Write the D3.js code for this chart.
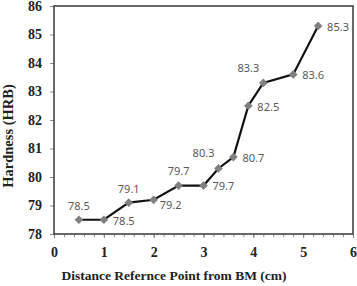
<!DOCTYPE html>
<html>
<head>
<meta charset="utf-8">
<script src="https://cdn.jsdelivr.net/npm/d3@7"></script>
<style>
  body { margin: 0; background: #fff; }
  svg { display: block; }
</style>
</head>
<body>
<div id="chart"></div>
<script>
const distance = [0.5, 1.0, 1.5, 2.0, 2.5, 3.0, 3.3, 3.6, 3.9, 4.2, 4.8, 5.3];
const hardness = [78.5, 78.5, 79.1, 79.2, 79.7, 79.7, 80.3, 80.7, 82.5, 83.3, 83.6, 85.3];
const labels = ["78.5", "78.5", "79.1", "79.2", "79.7", "79.7", "80.3", "80.7", "82.5", "83.3", "83.6", "85.3"];
// where each data label sits: above / right / aboveLeft / rightLow
const labelPos = ["above", "right", "above", "rightLow", "above", "right", "aboveLeft", "right", "right", "aboveLeft", "right", "right"];
const xTicks = [0, 1, 2, 3, 4, 5, 6];
const yTicks = [78, 79, 80, 81, 82, 83, 84, 85, 86];

const W = 357, H = 286;
const margin = { top: 6, right: 4, bottom: 52, left: 54 };
const width = W - margin.left - margin.right;
const height = H - margin.top - margin.bottom;

const svg = d3.select("#chart").append("svg")
    .attr("width", W)
    .attr("height", H);

const g = svg.append("g")
    .attr("transform", `translate(${margin.left},${margin.top})`);

const x = d3.scaleLinear().domain([0, 6]).range([0, width]);
const y = d3.scaleLinear().domain([78, 86]).range([height, 0]);

// minor ticks on x axis
g.append("g")
    .attr("transform", `translate(0,${height})`)
    .call(d3.axisBottom(x).tickValues(d3.range(0, 6.01, 0.2)).tickSize(3).tickFormat(""))
    .call(a => a.select(".domain").remove())
    .selectAll("line").attr("stroke", "#888");

const xAxis = g.append("g")
    .attr("transform", `translate(0,${height})`)
    .call(d3.axisBottom(x).tickValues(xTicks).tickSize(4).tickPadding(9).tickFormat(d3.format("d")));
xAxis.select(".domain").remove();
xAxis.selectAll("line").attr("stroke", "#888");
xAxis.selectAll("text")
    .attr("font-family", "'Liberation Serif', 'Times New Roman', serif")
    .attr("font-weight", "bold")
    .attr("font-size", 14)
    .attr("fill", "#222");

const yAxis = g.append("g")
    .call(d3.axisLeft(y).tickValues(yTicks).tickSize(4).tickPadding(8).tickFormat(d3.format("d")));
yAxis.select(".domain").remove();
yAxis.selectAll("line").attr("stroke", "#888");
yAxis.selectAll("text")
    .attr("font-family", "'Liberation Serif', 'Times New Roman', serif")
    .attr("font-weight", "bold")
    .attr("font-size", 14)
    .attr("fill", "#222");

// plot frame
g.append("rect")
    .attr("x", 0).attr("y", 0)
    .attr("width", width).attr("height", height)
    .attr("fill", "none")
    .attr("stroke", "#444")
    .attr("stroke-width", 1.6);

const pts = distance.map((d, i) => ({ x: d, y: hardness[i], label: labels[i], pos: labelPos[i] }));

g.append("path")
    .datum(pts)
    .attr("fill", "none")
    .attr("stroke", "#111")
    .attr("stroke-width", 2.2)
    .attr("d", d3.line().x(d => x(d.x)).y(d => y(d.y)));

g.selectAll(".pt")
    .data(pts)
    .enter().append("path")
    .attr("class", "pt")
    .attr("transform", d => `translate(${x(d.x)},${y(d.y)})`)
    .attr("d", d3.symbol().type(d3.symbolDiamond2).size(48))
    .attr("fill", "#808080");

const offsets = {
    above: [0, -14, "middle"],
    right: [9, 1, "start"],
    rightLow: [6, 5, "start"],
    aboveLeft: [-4, -15, "end"]
};

g.selectAll(".lbl")
    .data(pts)
    .enter().append("text")
    .attr("class", "lbl")
    .attr("x", d => x(d.x) + offsets[d.pos][0])
    .attr("y", d => y(d.y) + offsets[d.pos][1])
    .attr("dy", "0.35em")
    .attr("text-anchor", d => offsets[d.pos][2])
    .attr("font-family", "'Noto Sans', 'Open Sans', sans-serif")
    .attr("font-size", 11)
    .attr("fill", "#595959")
    .text(d => d.label);

svg.append("text")
    .attr("x", 174)
    .attr("y", 280)
    .attr("text-anchor", "middle")
    .attr("font-family", "'Liberation Serif', 'Times New Roman', serif")
    .attr("font-weight", "bold")
    .attr("font-size", 13.5)
    .attr("fill", "#222")
    .text("Distance Refernce Point from BM (cm)");

svg.append("text")
    .attr("transform", "translate(13,136) rotate(-90)")
    .attr("text-anchor", "middle")
    .attr("font-family", "'Liberation Serif', 'Times New Roman', serif")
    .attr("font-weight", "bold")
    .attr("font-size", 14.5)
    .attr("fill", "#222")
    .text("Hardness (HRB)");
</script>
</body>
</html>
